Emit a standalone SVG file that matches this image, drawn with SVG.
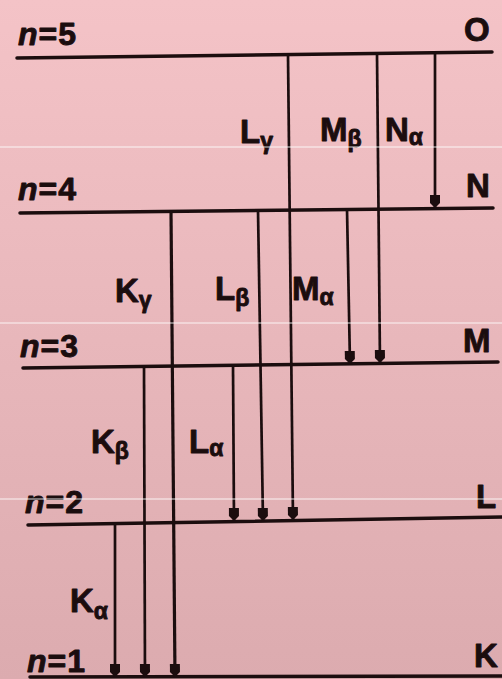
<svg xmlns="http://www.w3.org/2000/svg" width="502" height="679" viewBox="0 0 502 679">
<defs>
<linearGradient id="bg" x1="0" y1="0" x2="0" y2="1">
<stop offset="0" stop-color="#f4c3c7"/>
<stop offset="1" stop-color="#dcabaf"/>
</linearGradient>
<marker id="ah" markerUnits="userSpaceOnUse" viewBox="-14 -6 15 12" markerWidth="15" markerHeight="12" refX="0" refY="0" orient="auto">
<path d="M0,0 L-5,-5 L-13,-5 L-13,5 L-5,5 Z" fill="#1b0d0e"/>
</marker>
<style>
.lvl{stroke:#1b0d0e;stroke-width:3.5;fill:none;stroke-linecap:round}
.arr{stroke:#1b0d0e;stroke-width:2.7;fill:none;marker-end:url(#ah)}
.t{font-family:"Liberation Sans",Arial,sans-serif;font-weight:bold;fill:#1b0d0e;stroke:#1b0d0e;stroke-width:0.9;stroke-linejoin:round}
.big{font-size:33px}
.sub{font-size:23px}
.n{font-size:32px}
.scan{stroke:#ffffff;stroke-width:1.2;opacity:0.85}
</style>
</defs>
<rect width="502" height="679" fill="url(#bg)"/>

<g id="level-n5">
<line class="lvl" x1="17" y1="58" x2="492" y2="52"/>
<text class="t n" x="18" y="45"><tspan font-style="italic">n</tspan><tspan dx="1">=</tspan><tspan dx="1">5</tspan></text>
<text class="t big" x="464" y="41">O</text>
</g>
<g id="level-n4">
<line class="lvl" x1="20" y1="213" x2="493" y2="208"/>
<text class="t n" x="18" y="200"><tspan font-style="italic">n</tspan><tspan dx="1">=</tspan><tspan dx="1">4</tspan></text>
<text class="t big" x="466" y="197">N</text>
</g>
<g id="level-n3">
<line class="lvl" x1="23" y1="368" x2="498" y2="362"/>
<text class="t n" x="20" y="357"><tspan font-style="italic">n</tspan><tspan dx="1">=</tspan><tspan dx="1">3</tspan></text>
<text class="t big" x="463" y="352">M</text>
</g>
<g id="level-n2">
<line class="lvl" x1="28" y1="525" x2="502" y2="517"/>
<text class="t n" x="25" y="513"><tspan font-style="italic">n</tspan><tspan dx="1">=</tspan><tspan dx="1">2</tspan></text>
<text class="t big" x="476" y="508">L</text>
</g>
<g id="level-n1">
<line class="lvl" x1="30" y1="677" x2="502" y2="676"/>
<text class="t n" x="27" y="672"><tspan font-style="italic">n</tspan><tspan dx="1">=</tspan><tspan dx="1">1</tspan></text>
<text class="t big" x="474" y="667">K</text>
</g>

<g id="connectors">
<line id="L-gamma" class="arr" x1="288" y1="55" x2="293" y2="520"/>
<line id="M-beta" class="arr" x1="377" y1="54" x2="380" y2="363"/>
<line id="N-alpha" class="arr" x1="435" y1="53" x2="435" y2="208"/>
<line id="K-gamma" class="arr" x1="171" y1="211" x2="175" y2="677" style="stroke-width:3.2"/>
<line id="L-beta" class="arr" x1="258" y1="210" x2="263" y2="521"/>
<line id="M-alpha" class="arr" x1="347" y1="209" x2="350" y2="364"/>
<line id="K-beta" class="arr" x1="144" y1="366" x2="145" y2="677"/>
<line id="L-alpha" class="arr" x1="233" y1="365" x2="234" y2="521"/>
<line id="K-alpha" class="arr" x1="115" y1="524" x2="115" y2="677"/>
</g>

<g id="transition-labels">
<text class="t big" x="240" y="143">L<tspan class="sub" dy="6">γ</tspan></text>
<text class="t big" x="320" y="141">M<tspan class="sub" dy="6">β</tspan></text>
<text class="t big" x="385" y="141">N<tspan class="sub" dy="4">α</tspan></text>
<text class="t big" x="115" y="302">K<tspan class="sub" dy="6">γ</tspan></text>
<text class="t big" x="215" y="300">L<tspan class="sub" dy="6">β</tspan></text>
<text class="t big" x="292" y="300">M<tspan class="sub" dy="5">α</tspan></text>
<text class="t big" x="91" y="453">K<tspan class="sub" dy="6">β</tspan></text>
<text class="t big" x="189" y="453">L<tspan class="sub" dy="3">α</tspan></text>
<text class="t big" x="70" y="612">K<tspan class="sub" dy="7">α</tspan></text>
</g>

<g id="scan-lines">
<line class="scan" x1="0" y1="147" x2="502" y2="147"/>
<line class="scan" x1="0" y1="323" x2="502" y2="323"/>
<line class="scan" x1="0" y1="499" x2="502" y2="499"/>
</g>
</svg>
